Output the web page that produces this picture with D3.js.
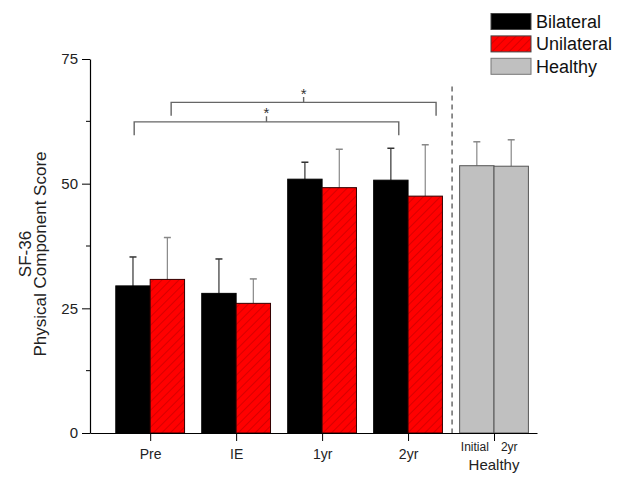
<!DOCTYPE html>
<html><head><meta charset="utf-8">
<script src="https://cdn.jsdelivr.net/npm/d3@7"></script>
<style>body{margin:0;background:#fff;} text{font-family:Arial,"Liberation Sans",sans-serif;}</style>
</head><body>
<svg id="c" width="624" height="486"></svg>
<script>
const categories = ["Pre", "IE", "1yr", "2yr"];
const bilateral = [29.5, 28.0, 50.9, 50.7];
const bilateralSD = [5.8, 6.9, 3.4, 6.4];
const unilateral = [30.8, 26.0, 49.2, 47.5];
const unilateralSD = [8.4, 4.9, 7.7, 10.3];
const healthyLabels = ["Initial", "2yr"];
const healthy = [53.6, 53.5];
const healthySD = [4.8, 5.3];
const yTicks = [0, 25, 50, 75];
const yMinorTicks = [12.5, 37.5, 62.5];
const legendLabels = ["Bilateral", "Unilateral", "Healthy"];
// significance brackets: [from, to, level]
const bracketFrom = [0.814, 1.244];
const bracketTo = [3.892, 4.326];
const bracketLevel = [62.4, 66.3];

const svg = d3.select("#c");
const x = d3.scaleLinear().domain([0.3, 5.5]).range([90, 537]);
const y = d3.scaleLinear().domain([0, 75]).range([433, 59]);
const bw = 0.4;

// hatch pattern
const defs = svg.append("defs");
const pat = defs.append("pattern").attr("id", "hatch").attr("patternUnits", "userSpaceOnUse")
  .attr("width", 6).attr("height", 6).attr("patternTransform", "rotate(45)");
pat.append("rect").attr("width", 6).attr("height", 6).attr("fill", "#ff0000");
pat.append("line").attr("x1", 0).attr("y1", 0).attr("x2", 0).attr("y2", 6)
  .attr("stroke", "#b00000").attr("stroke-width", 1);

const g = svg.append("g");

function errBar(cx, v, sd, color) {
  g.append("line").attr("x1", cx).attr("x2", cx).attr("y1", y(v)).attr("y2", y(v + sd))
    .attr("stroke", color).attr("stroke-width", 1.2);
  g.append("line").attr("x1", cx - 3.5).attr("x2", cx + 3.5).attr("y1", y(v + sd)).attr("y2", y(v + sd))
    .attr("stroke", color).attr("stroke-width", 1.5);
}

categories.forEach((c, i) => {
  const p = i + 1;
  errBar(x(p - bw / 2), bilateral[i], bilateralSD[i], "#333");
  errBar(x(p + bw / 2), unilateral[i], unilateralSD[i], "#888");
  g.append("rect").attr("x", x(p - bw)).attr("width", x(p) - x(p - bw))
    .attr("y", y(bilateral[i])).attr("height", y(0) - y(bilateral[i]))
    .attr("fill", "#000").attr("stroke", "#000").attr("stroke-width", 1);
  g.append("rect").attr("x", x(p)).attr("width", x(p + bw) - x(p))
    .attr("y", y(unilateral[i])).attr("height", y(0) - y(unilateral[i]))
    .attr("fill", "url(#hatch)").attr("stroke", "#300").attr("stroke-width", 1);
});

// healthy
healthy.forEach((v, i) => {
  const x0 = i === 0 ? 5 - bw : 5;
  errBar(x(x0 + bw / 2), v, healthySD[i], "#888");
  g.append("rect").attr("x", x(x0)).attr("width", x(x0 + bw) - x(x0))
    .attr("y", y(v)).attr("height", y(0) - y(v))
    .attr("fill", "#c0c0c0").attr("stroke", "#555").attr("stroke-width", 1);
  g.append("text").attr("x", x(x0 + bw / 2) - 2).attr("y", 451).attr("text-anchor", "middle")
    .attr("font-size", 12).attr("fill", "#222").text(healthyLabels[i]);
});
g.append("text").attr("x", x(5)).attr("y", 470).attr("text-anchor", "middle")
  .attr("font-size", 15).attr("fill", "#222").text("Healthy");

// dashed separator
g.append("line").attr("x1", x(4.512)).attr("x2", x(4.512)).attr("y1", y(69.5)).attr("y2", y(0))
  .attr("stroke", "#555").attr("stroke-width", 1.3).attr("stroke-dasharray", "5,4");

// axes
const yAxis = svg.append("g").attr("transform", `translate(${x(0.3)},0)`)
  .call(d3.axisLeft(y).tickValues(yTicks).tickSize(8).tickPadding(4).tickSizeOuter(0));
yAxis.selectAll("text").attr("font-size", 15).attr("fill", "#222");
yAxis.append("g").selectAll("line").data(yMinorTicks).join("line")
  .attr("x1", -4).attr("x2", 0).attr("y1", d => y(d)).attr("y2", d => y(d)).attr("stroke", "#000");

const xAxis = svg.append("g").attr("transform", `translate(0,${y(0)})`)
  .call(d3.axisBottom(x).tickValues([1, 2, 3, 4, 5]).tickSize(8).tickSizeOuter(0)
    .tickFormat((d, i) => categories[i] || ""));
xAxis.selectAll("text").attr("font-size", 14).attr("fill", "#222").attr("dy", "1.05em");
svg.selectAll(".domain").attr("stroke", "#000").attr("stroke-width", 1.2);
svg.selectAll(".tick line").attr("stroke", "#000");

// axis title
const yt = svg.append("text").attr("transform", "translate(0,254) rotate(-90)").attr("text-anchor", "middle")
  .attr("font-size", 17).attr("fill", "#222");
yt.append("tspan").attr("x", 0).attr("y", 31).text("SF-36");
yt.append("tspan").attr("x", 0).attr("y", 46).text("Physical Component Score");

// brackets
bracketFrom.forEach((f, i) => {
  const t = bracketTo[i], lv = bracketLevel[i];
  const path = d3.path();
  path.moveTo(x(f), y(lv - 2.7)); path.lineTo(x(f), y(lv)); path.lineTo(x(t), y(lv)); path.lineTo(x(t), y(lv - 2.7));
  const mid = (x(f) + x(t)) / 2;
  path.moveTo(mid, y(lv)); path.lineTo(mid, y(lv + 1.1));
  g.append("path").attr("d", path.toString()).attr("fill", "none").attr("stroke", "#666").attr("stroke-width", 1.4);
  g.append("text").attr("x", mid).attr("y", y(lv + 1.1) + 2).attr("text-anchor", "middle")
    .attr("font-size", 15).attr("fill", "#333").text("*");
});

// legend
const lg = svg.append("g");
const legFill = ["#000", "url(#hatch)", "#c0c0c0"];
const legStroke = ["#444", "#444", "#777"];
legendLabels.forEach((l, i) => {
  lg.append("rect").attr("x", 491).attr("y", 13.5 + i * 22.4).attr("width", 40).attr("height", 16)
    .attr("fill", legFill[i]).attr("stroke", legStroke[i]).attr("stroke-width", 1);
  lg.append("text").attr("x", 536).attr("y", 28 + i * 22.4).attr("font-size", 18).attr("fill", "#111").text(l);
});
</script>
</body></html>
